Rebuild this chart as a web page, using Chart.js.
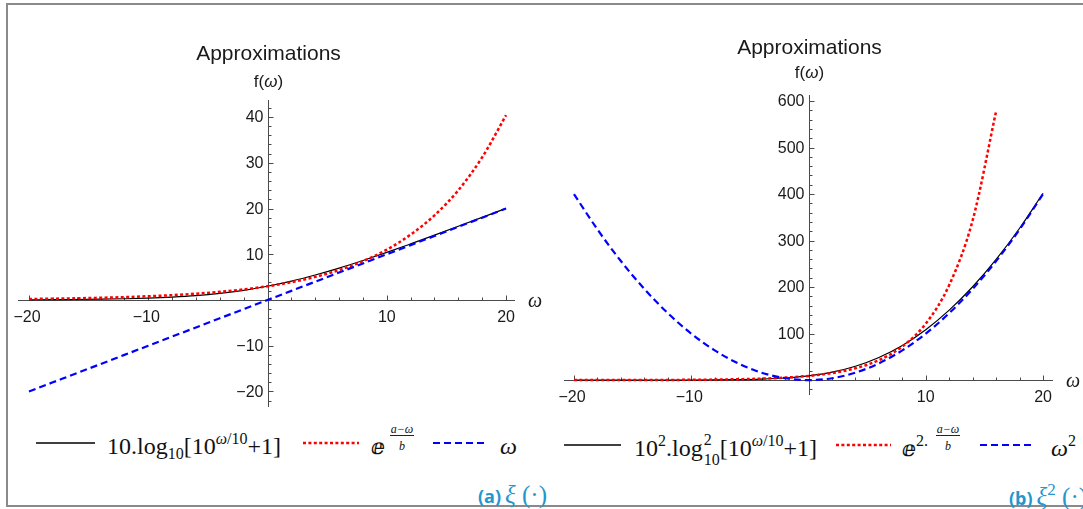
<!DOCTYPE html>
<html>
<head>
<meta charset="utf-8">
<script src="https://cdn.jsdelivr.net/npm/chart.js@4.4.1/dist/chart.umd.min.js"></script>
<style>
    body { margin: 0; background: #fff; width: 1083px; height: 509px; overflow: hidden; position: relative; }
    #frame { position: absolute; left: 6px; top: 3px; width: 1100px; height: 504px; border: 2px solid #8a8a8a; border-right: none; box-sizing: border-box; }
    canvas { position: absolute; top: 0; }
    #chartA { left: 0; }
    #chartB { left: 545px; }
    .lg { position: absolute; font-family: "Liberation Serif", "Times New Roman", serif; font-size: 24px; color: #111; white-space: nowrap; line-height: 24px; }
    .sup { position: relative; font-size: 16px; top: -10px; }
    .sub { position: relative; font-size: 16px; top: 5px; }
    .stack { display: inline-block; position: relative; width: 17px; height: 10px; }
    .stack .s1 { position: absolute; left: 1px; top: -18px; font-size: 16px; }
    .stack .s2 { position: absolute; left: 1px; top: 2px; font-size: 16px; }
    .ee { font-family: "DejaVu Serif", "DejaVu Sans", serif; font-size: 22px; }
    .fr { position: absolute; font-family: "Liberation Serif", serif; font-style: italic; font-size: 12px; color: #111; text-align: center; line-height: 12px; }
    .bar { position: absolute; height: 0; border-top: 1px solid #222; }
    svg.smp { position: absolute; overflow: visible; }
    .cap { position: absolute; color: #2596cc; white-space: nowrap; line-height: 26px; }
    .cap b { font-family: "Open Sans", "Noto Sans", sans-serif; font-size: 18px; font-weight: 700; }
    .cap span { font-family: "Liberation Serif", serif; font-size: 25px; }
</style>
</head>
<body>
<div id="frame"></div>
<canvas id="chartA" width="545" height="420"></canvas>
<canvas id="chartB" width="538" height="420"></canvas>

<!-- legenda (a) -->
<svg class="smp" style="left:36px;top:443px" width="59" height="2"><line x1="0" y1="0" x2="59" y2="0" stroke="#000" stroke-width="1.3"/></svg>
<div class="lg" style="left:107px;top:434px">10.log<span class="sub">10</span>[10<span class="sup"><i>ω</i>/10</span>+1]</div>
<svg class="smp" style="left:303px;top:443px" width="56" height="2"><line x1="0" y1="0" x2="56" y2="0" stroke="#ff0000" stroke-width="2.6" stroke-dasharray="3 2.4"/></svg>
<div class="lg" style="left:371px;top:434px"><span class="ee">ⅇ</span></div>
<div class="fr" style="left:388px;top:423px;width:28px">a−ω</div>
<div class="bar" style="left:390px;top:435px;width:24px"></div>
<div class="fr" style="left:388px;top:440px;width:28px">b</div>
<svg class="smp" style="left:433px;top:443px" width="54" height="2"><line x1="0" y1="0" x2="54" y2="0" stroke="#0000ff" stroke-width="2.2" stroke-dasharray="7 4"/></svg>
<div class="lg" style="left:500px;top:434px"><i>ω</i></div>
<div class="cap" style="left:478px;top:482px"><b>(a)</b> <span><i>ξ</i> (·)</span></div>

<!-- legenda (b) -->
<svg class="smp" style="left:564px;top:445px" width="57" height="2"><line x1="0" y1="0" x2="57" y2="0" stroke="#000" stroke-width="1.3"/></svg>
<div class="lg" style="left:634px;top:436px">10<span class="sup">2</span>.log<span class="stack"><span class="s1">2</span><span class="s2">10</span></span>[10<span class="sup"><i>ω</i>/10</span>+1]</div>
<svg class="smp" style="left:836px;top:445px" width="55" height="2"><line x1="0" y1="0" x2="55" y2="0" stroke="#ff0000" stroke-width="2.6" stroke-dasharray="3 2.4"/></svg>
<div class="lg" style="left:902px;top:436px"><span class="ee">ⅇ</span><span class="sup">2.</span></div>
<div class="fr" style="left:934px;top:423px;width:28px">a−ω</div>
<div class="bar" style="left:936px;top:435px;width:24px"></div>
<div class="fr" style="left:934px;top:440px;width:28px">b</div>
<svg class="smp" style="left:980px;top:445px" width="53" height="2"><line x1="0" y1="0" x2="53" y2="0" stroke="#0000ff" stroke-width="2.2" stroke-dasharray="7 4"/></svg>
<div class="lg" style="left:1051px;top:436px"><i>ω</i><span class="sup">2</span></div>
<div class="cap" style="left:1009px;top:484px"><b>(b)</b> <span><i>ξ</i><span class="sup" style="font-size:17px">2</span> (·)</span></div>

<script>
// Valores de ω (eje horizontal)
const omega = [-20, -18, -16, -14, -12, -10, -8, -6, -4, -2, 0, 2, 4, 6, 8, 10, 12, 14, 16, 18, 20];
const omegaRedB = [-20, -18, -16, -14, -12, -10, -8, -6, -4, -2, 0, 2, 4, 6, 8, 10, 12, 14, 16];

// (a) ξ(·)
const logA = [0.04, 0.07, 0.11, 0.17, 0.27, 0.41, 0.64, 0.97, 1.46, 2.12, 3.01, 4.12, 5.46, 6.97, 8.64, 10.41, 12.27, 14.17, 16.11, 18.07, 20.04];
const expA = [0.22, 0.29, 0.37, 0.49, 0.63, 0.82, 1.06, 1.38, 1.79, 2.32, 3.0, 3.9, 5.05, 6.55, 8.5, 11.0, 14.3, 18.5, 24.0, 31.2, 40.4];
const linA = [-20, -18, -16, -14, -12, -10, -8, -6, -4, -2, 0, 2, 4, 6, 8, 10, 12, 14, 16, 18, 20];

// (b) ξ²(·)
const logB = [0, 0, 0.01, 0.03, 0.07, 0.17, 0.41, 0.95, 2.1, 4.5, 9.1, 17.0, 29.8, 48.6, 74.6, 108.5, 150.5, 200.8, 259.5, 326.5, 401.7];
const expB = [0.05, 0.08, 0.14, 0.24, 0.4, 0.67, 1.13, 1.9, 3.2, 5.4, 9.0, 15.2, 25.5, 42.9, 72.2, 121.5, 204.4, 343.8, 578.3];
const sqB = [400, 324, 256, 196, 144, 100, 64, 36, 16, 4, 0, 4, 16, 36, 64, 100, 144, 196, 256, 324, 400];

// Etiquetas de marcas
const xTicks = [-20, -10, 10, 20];
const yTicksA = [-20, -10, 10, 20, 30, 40];
const yTicksB = [100, 200, 300, 400, 500, 600];

const sans = '"Liberation Sans", Arial, sans-serif';

function pts(xs, ys) {
    return xs.map((x, i) => ({ x: x, y: ys[i] }));
}

function fmt(v) {
    return v < 0 ? '\u2212' + Math.abs(v) : String(v);
}

// Ejes cruzando en el origen, con marcas menores (estilo Mathematica)
const originAxes = {
    id: 'originAxes',
    beforeDatasetsDraw(chart, args, o) {
        const { ctx, chartArea: a, scales: { x, y } } = chart;
        const x0 = Math.round(x.getPixelForValue(0)) + 0.5;
        const y0 = Math.round(y.getPixelForValue(0)) + 0.5;
        ctx.save();
        ctx.strokeStyle = '#4a4a4a';
        ctx.lineWidth = 1;
        ctx.beginPath();
        ctx.moveTo(a.left, y0); ctx.lineTo(a.right, y0);
        ctx.moveTo(x0, a.top); ctx.lineTo(x0, a.bottom);

        // marcas eje x
        const nx0 = Math.ceil(x.min / o.xMinor), nx1 = Math.floor(x.max / o.xMinor);
        for (let i = nx0; i <= nx1; i++) {
            if (i === 0) continue;
            const v = i * o.xMinor;
            const px = Math.round(x.getPixelForValue(v)) + 0.5;
            const len = (v % o.xMajor === 0) ? 5 : 3;
            ctx.moveTo(px, y0); ctx.lineTo(px, y0 - len);
        }
        // marcas eje y
        const ny0 = Math.ceil(y.min / o.yMinor), ny1 = Math.floor(y.max / o.yMinor);
        for (let i = ny0; i <= ny1; i++) {
            if (i === 0) continue;
            const v = i * o.yMinor;
            const py = Math.round(y.getPixelForValue(v)) + 0.5;
            const len = (v % o.yMajor === 0) ? 5 : 3;
            ctx.moveTo(x0, py); ctx.lineTo(x0 + len, py);
        }
        ctx.stroke();

        ctx.fillStyle = '#1a1a1a';
        ctx.font = '16px ' + sans;
        ctx.textBaseline = 'middle';
        ctx.textAlign = 'center';
        o.xLabels.forEach(v => {
            ctx.fillText(fmt(v), x.getPixelForValue(v) - (v < 0 ? 2 : 0), y0 + 17);
        });
        ctx.textAlign = 'right';
        o.yLabels.forEach(v => {
            ctx.fillText(fmt(v), x0 - 5, y.getPixelForValue(v) + 1);
        });

        // ω al final del eje x
        ctx.textAlign = 'center';
        ctx.font = 'italic 20px "Liberation Serif", serif';
        ctx.fillText('ω', a.right + 20, y0 + 1);

        // título y f(ω)
        ctx.font = '21px ' + sans;
        ctx.fillText('Approximations', x0, o.titleY);
        ctx.font = '17px ' + sans;
        const w1 = ctx.measureText('f(').width;
        ctx.font = 'italic 17px ' + sans;
        const w2 = ctx.measureText('ω').width;
        ctx.font = '17px ' + sans;
        const w3 = ctx.measureText(')').width;
        let sx = x0 - (w1 + w2 + w3) / 2;
        ctx.textAlign = 'left';
        ctx.fillText('f(', sx, o.fY);
        ctx.font = 'italic 17px ' + sans;
        ctx.fillText('ω', sx + w1, o.fY);
        ctx.font = '17px ' + sans;
        ctx.fillText(')', sx + w1 + w2, o.fY);
        ctx.restore();
    }
};

function makeChart(id, datasets, scaleOpts, padding, axesOpts) {
    return new Chart(document.getElementById(id), {
        type: 'line',
        data: { datasets: datasets },
        options: {
            responsive: false,
            animation: false,
            devicePixelRatio: 1,
            layout: { padding: padding },
            plugins: {
                legend: { display: false },
                tooltip: { enabled: false },
                originAxes: axesOpts
            },
            elements: {
                point: { radius: 0 },
                line: { cubicInterpolationMode: 'monotone', fill: false }
            },
            scales: {
                x: Object.assign({ type: 'linear', display: false }, scaleOpts.x),
                y: Object.assign({ type: 'linear', display: false }, scaleOpts.y)
            }
        },
        plugins: [originAxes]
    });
}

makeChart('chartA', [
    { label: '10.log10[10^(ω/10)+1]', data: pts(omega, logA), borderColor: '#000', borderWidth: 1.2, order: 2 },
    { label: 'e^((a-ω)/b)', data: pts(omega, expA), borderColor: '#ff0000', borderWidth: 2.5, borderDash: [3, 2.4], order: 1 },
    { label: 'ω', data: pts(omega, linA), borderColor: '#0000ff', borderWidth: 2.2, borderDash: [7, 4], order: 0 }
], {
    x: { min: -20.92, max: 20.75 },
    y: { min: -23.39, max: 43.72 }
}, { left: 18, right: 30, top: 100, bottom: 13 }, {
    xMinor: 2, xMajor: 10, yMinor: 2, yMajor: 10,
    xLabels: xTicks, yLabels: yTicksA, titleY: 54, fY: 82
});

makeChart('chartB', [
    { label: '10^2.log10^2[10^(ω/10)+1]', data: pts(omega, logB), borderColor: '#000', borderWidth: 1.2, order: 2 },
    { label: 'e^(2.(a-ω)/b)', data: pts(omegaRedB, expB), borderColor: '#ff0000', borderWidth: 2.5, borderDash: [3, 2.4], order: 1 },
    { label: 'ω^2', data: pts(omega, sqB), borderColor: '#0000ff', borderWidth: 2.2, borderDash: [7, 4], order: 0 }
], {
    x: { min: -20.85, max: 20.85 },
    y: { min: -32, max: 613 }
}, { left: 19, right: 30, top: 95, bottom: 25 }, {
    xMinor: 2, xMajor: 10, yMinor: 20, yMajor: 100,
    xLabels: xTicks, yLabels: yTicksB, titleY: 48, fY: 73
});
</script>
</body>
</html>
